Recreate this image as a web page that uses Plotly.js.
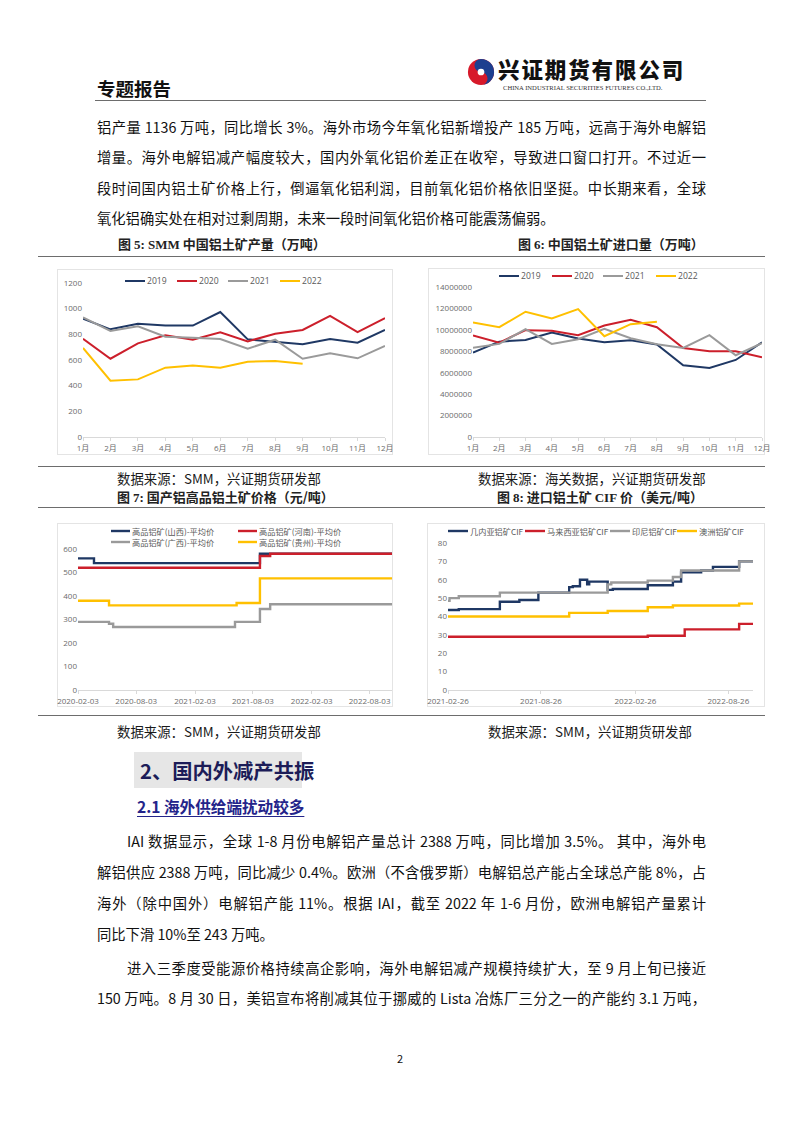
<!DOCTYPE html>
<html><head><meta charset="utf-8">
<script src="https://cdn.plot.ly/plotly-3.0.1.min.js"></script>
<style>
html,body{margin:0;padding:0;background:#fff}
body{width:802px;height:1133px;position:relative;overflow:hidden;font-family:"Noto Sans CJK SC","Noto Sans",sans-serif;color:#111}
.abs{position:absolute;white-space:nowrap}
.tl{position:absolute;font-size:14.3px;height:20px;line-height:20px;color:#111;text-align:justify;text-align-last:justify}
.tl.last{text-align:left;text-align-last:left}
.rule{position:absolute;height:0;border-top:1.6px solid #6d6d6d}
.frame{position:absolute;border:1px solid #e4e4e4;box-sizing:border-box}
.chart{position:absolute}
.cap{position:absolute;white-space:nowrap;font-size:13px;font-weight:700;color:#222;line-height:18px}
.cap .n{font-family:"Liberation Serif",serif;font-weight:700}
.src{position:absolute;white-space:nowrap;font-size:13.4px;color:#1a1a1a;line-height:18px}
</style></head>
<body>
<!-- header -->
<div class="abs" style="left:97px;top:76px;font-size:18.5px;font-weight:700;line-height:24px;color:#111">专题报告</div>
<svg class="abs" style="left:467px;top:58px" width="28" height="28" viewBox="0 0 30 30">
  <circle cx="15" cy="15" r="14" fill="#d7192a"/>
  <path d="M15 1 A14 14 0 0 1 15 29 A7 7 0 0 0 15 15 A7 7 0 0 1 15 1Z" fill="#1d3f8f"/>
  <circle cx="15" cy="15" r="3.6" fill="#fff"/>
</svg>
<div class="abs" style="left:498px;top:57px;font-size:21.5px;font-weight:900;letter-spacing:1.9px;line-height:24px;color:#111;font-family:'Noto Sans CJK SC'">兴证期货有限公司</div>
<div class="abs" style="left:503px;top:84px;font-size:6.6px;line-height:8px;color:#333;font-family:'Liberation Serif',serif">CHINA INDUSTRIAL SECURITIES FUTURES CO.,LTD.</div>
<div class="rule" style="left:95px;width:611px;top:100px"></div>

<div id="txt"></div>

<!-- chart frames -->
<div class="frame" style="left:57px;top:269px;width:336px;height:186px"></div>
<div class="frame" style="left:428px;top:268px;width:337px;height:187px"></div>
<div class="frame" style="left:57px;top:523px;width:336px;height:184px"></div>
<div class="frame" style="left:427px;top:523px;width:338px;height:184px"></div>

<div class="rule" style="left:38px;width:727px;top:256px"></div>
<div class="rule" style="left:38px;width:727px;top:466px"></div>
<div class="rule" style="left:38px;width:727px;top:507px"></div>
<div class="rule" style="left:38px;width:727px;top:715px"></div>

<div class="cap" style="left:118px;top:235px">图 <span class="n">5: SMM</span> 中国铝土矿产量（万吨）</div>
<div class="cap" style="left:518px;top:235px">图 <span class="n">6:</span> 中国铝土矿进口量（万吨）</div>
<div class="src" style="left:117px;top:469px">数据来源：SMM，兴证期货研发部</div>
<div class="src" style="left:478px;top:469px">数据来源：海关数据，兴证期货研发部</div>
<div class="cap" style="left:117px;top:488px">图 <span class="n">7:</span> 国产铝高品铝土矿价格（元/吨）</div>
<div class="cap" style="left:497px;top:488px">图 <span class="n">8:</span> 进口铝土矿 <span class="n">CIF</span> 价（美元/吨）</div>
<div class="src" style="left:117px;top:722px">数据来源：SMM，兴证期货研发部</div>
<div class="src" style="left:488px;top:722px">数据来源：SMM，兴证期货研发部</div>

<div class="abs" style="left:134px;top:752px;width:168px;height:36px;background:#e6e6e6"></div>
<div class="abs" style="left:140px;top:756px;font-size:20.3px;font-weight:700;line-height:28px;color:#1c1c58">2、国内外减产共振</div>
<div class="abs" style="left:137px;top:795px;font-size:15.6px;font-weight:700;line-height:22px;color:#24248a;text-decoration:underline;text-underline-offset:3px">2.1 海外供给端扰动较多</div>

<div class="abs" style="left:397px;top:1050px;font-size:11px;line-height:16px;color:#111">2</div>

<div id="c5" class="chart"></div>
<div id="c6" class="chart"></div>
<div id="c7" class="chart"></div>
<div id="c8" class="chart"></div>

<script>
// ---------------- data ----------------
const monthLabels = ['1月','2月','3月','4月','5月','6月','7月','8月','9月','10月','11月','12月'];
const yearNames = ['2019','2020','2021','2022'];
// 图5 SMM 中国铝土矿产量（万吨）
const smm2019 = [922, 839, 883, 868, 868, 974, 761, 740, 722, 764, 735, 834];
const smm2020 = [766, 610, 730, 792, 758, 816, 745, 805, 834, 943, 818, 927];
const smm2021 = [932, 826, 862, 782, 774, 764, 688, 758, 610, 652, 613, 709];
const smm2022 = [694, 439, 449, 540, 558, 540, 587, 592, 571];
// 图6 中国铝土矿进口量
const imp2019 = [7875000, 8900000, 9060000, 9750000, 9190000, 8840000, 9030000, 8630000, 6690000, 6440000, 7190000, 8840000];
const imp2020 = [9470000, 8810000, 9970000, 9910000, 9500000, 10410000, 10940000, 10250000, 8310000, 8000000, 8000000, 7440000];
const imp2021 = [8340000, 8690000, 10060000, 8690000, 9130000, 10090000, 9220000, 8660000, 8310000, 9500000, 7630000, 8750000];
const imp2022 = [10690000, 10250000, 11690000, 11060000, 11940000, 9410000, 10530000, 10750000];
// 图7 国产铝高品铝土矿价格（元/吨）— step points
const domNames = ['高品铝矿(山西)-平均价','高品铝矿(河南)-平均价','高品铝矿(广西)-平均价','高品铝矿(贵州)-平均价'];
const shanxiDates = ['2020-02-03','2020-03-24','2021-08-25','2022-10-12'];
const shanxiVals  = [560, 540, 580, 580];
const henanDates  = ['2020-02-03','2021-08-25','2021-09-26','2022-10-12'];
const henanVals   = [520, 570, 580, 580];
const guangxiDates = ['2020-02-03','2020-05-10','2020-05-23','2021-06-08','2021-08-25','2021-09-26','2022-10-12'];
const guangxiVals  = [290, 282, 268, 290, 345, 365, 365];
const guizhouDates = ['2020-02-03','2020-05-10','2021-06-13','2021-08-25','2022-10-12'];
const guizhouVals  = [380, 360, 370, 475, 475];
const domTicks = ['2020-02-03','2020-08-03','2021-02-03','2021-08-03','2022-02-03','2022-08-03'];
// 图8 进口铝土矿 CIF 价（美元/吨）
const cifNames = ['几内亚铝矿CIF','马来西亚铝矿CIF','印尼铝矿CIF','澳洲铝矿CIF'];
const guineaDates = ['2021-02-26','2021-03-19','2021-06-07','2021-07-15','2021-08-21','2021-10-20','2021-10-27','2021-11-10','2021-11-24','2021-11-28','2022-01-03','2022-01-13','2022-03-22','2022-05-10','2022-05-26','2022-07-04','2022-07-27','2022-09-16','2022-10-13'];
const guineaVals  = [43.5, 44, 48, 49, 53, 56, 56.5, 60, 57.5, 59, 54.5, 55, 57, 59, 64, 65, 67, 70, 70];
const malayDates  = ['2021-02-26','2022-03-22','2022-06-02','2022-09-16','2022-10-13'];
const malayVals   = [29, 29.5, 33, 36, 36];
const indoDates   = ['2021-02-26','2021-03-01','2021-03-19','2021-06-07','2022-01-03','2022-01-10','2022-03-22','2022-05-10','2022-05-26','2022-09-16','2022-10-13'];
const indoVals    = [48.5, 50, 51, 53, 57.5, 58.5, 59.5, 61.5, 65, 70, 70];
const ausDates    = ['2021-02-26','2021-10-20','2022-01-03','2022-03-22','2022-05-10','2022-09-16','2022-10-13'];
const ausVals     = [40, 42, 43, 45, 46, 47, 47];
const cifTicks = ['2021-02-26','2021-08-26','2022-02-26','2022-08-26'];

// ---------------- text ----------------
const textLines = [
 {y:127, x:97,  w:609, t:'铝产量 1136 万吨，同比增长 3%。海外市场今年氧化铝新增投产 185 万吨，远高于海外电解铝'},
 {y:157, x:97,  w:609, t:'增量。海外电解铝减产幅度较大，国内外氧化铝价差正在收窄，导致进口窗口打开。不过近一'},
 {y:188, x:97,  w:609, t:'段时间国内铝土矿价格上行，倒逼氧化铝利润，目前氧化铝价格依旧坚挺。中长期来看，全球'},
 {y:218, x:97,  w:609, t:'氧化铝确实处在相对过剩周期，未来一段时间氧化铝价格可能震荡偏弱。', last:true},
 {y:841, x:127, w:579, t:'IAI 数据显示，全球 1-8 月份电解铝产量总计 2388 万吨，同比增加 3.5%。 其中，海外电'},
 {y:872, x:97,  w:609, t:'解铝供应 2388 万吨，同比减少 0.4%。欧洲（不含俄罗斯）电解铝总产能占全球总产能 8%，占'},
 {y:903, x:97,  w:609, t:'海外（除中国外）电解铝产能 11%。根据 IAI，截至 2022 年 1-6 月份，欧洲电解铝产量累计'},
 {y:934, x:97,  w:609, t:'同比下滑 10%至 243 万吨。', last:true},
 {y:968, x:127, w:579, t:'进入三季度受能源价格持续高企影响，海外电解铝减产规模持续扩大，至 9 月上旬已接近'},
 {y:998, x:97,  w:609, t:'150 万吨。8 月 30 日，美铝宣布将削减其位于挪威的 Lista 冶炼厂三分之一的产能约 3.1 万吨，'}
];
const txt = document.getElementById('txt');
textLines.forEach(l => {
  const d = document.createElement('div');
  d.className = 'tl' + (l.last ? ' last' : '');
  d.style.left = l.x + 'px'; d.style.top = (l.y - 10) + 'px'; d.style.width = l.w + 'px';
  d.textContent = l.t;
  txt.appendChild(d);
});

// ---------------- chart styling ----------------
const C_NAVY = '#1f3864', C_RED = '#cc1f2b', C_GRAY = '#9a9a9a', C_YEL = '#ffc000';
const colors = [C_NAVY, C_RED, C_GRAY, C_YEL];
const tickFont = {family:'Open Sans, Noto Sans CJK SC', size:8, color:'#6b6b6b'};
const legFontA = {family:'Open Sans, Noto Sans CJK SC', size:8.6, color:'#595959'};
const legFontB = {family:'Noto Sans CJK SC', size:8.2, color:'#595959'};

function setup(id, div, box){
  const el = document.getElementById(id);
  el.style.left = div[0]+'px'; el.style.top = div[1]+'px';
  el.style.width = (div[2]-div[0])+'px'; el.style.height = (div[3]-div[1])+'px';
  return {width: div[2]-div[0], height: div[3]-div[1],
    margin:{l: box[0]-div[0], r: div[2]-box[2], t: box[1]-div[1], b: div[3]-box[3], pad:0},
    paper_bgcolor:'rgba(0,0,0,0)', plot_bgcolor:'rgba(0,0,0,0)', showlegend:false,
    font: tickFont, shapes:[], annotations:[]};
}
function toPaper(box, X, Y){ return {x:(X-box[0])/(box[2]-box[0]), y:(box[3]-Y)/(box[3]-box[1])}; }
function addLegend(layout, box, items, names, width, font){
  items.forEach((it, i) => {
    const a = toPaper(box, it[0], it[1]), b = toPaper(box, it[0]+it[2], it[1]), c = toPaper(box, it[0]+it[2]+1, it[1]);
    layout.shapes.push({type:'line', xref:'paper', yref:'paper', x0:a.x, x1:b.x, y0:a.y, y1:a.y, line:{color:colors[i], width:width}});
    layout.annotations.push({xref:'paper', yref:'paper', x:c.x, y:c.y, xanchor:'left', yanchor:'middle', text:names[i], showarrow:false, font:font, borderpad:0});
  });
}
const cfg = {staticPlot:true, displayModeBar:false};

// ---- Chart 5
(function(){
  const box = [83, 283, 385, 437];
  const L = setup('c5', [40, 262, 400, 462], box);
  const ser = [smm2019, smm2020, smm2021, smm2022];
  const traces = ser.map((v,i) => ({type:'scatter', mode:'lines', name:yearNames[i], x:monthLabels.slice(0, v.length), y:v, line:{color:colors[i], width:2}}));
  L.xaxis = {type:'category', categoryarray:monthLabels, range:[0,11], showline:true, linecolor:'#d9d9d9', linewidth:1, ticks:'outside', ticklen:3, tickcolor:'#d9d9d9', showgrid:false, zeroline:false, tickfont:tickFont};
  L.yaxis = {range:[0,1200], dtick:200, showgrid:false, zeroline:false, showline:false, ticks:'', tickfont:tickFont};
  addLegend(L, box, [[125,281,20],[177,281,20],[228,281,20],[280,281,20]], yearNames, 2, legFontA);
  Plotly.newPlot('c5', traces, L, cfg);
})();

// ---- Chart 6
(function(){
  const box = [473, 287, 762, 437];
  const L = setup('c6', [420, 262, 776, 462], box);
  const ser = [imp2019, imp2020, imp2021, imp2022];
  const traces = ser.map((v,i) => ({type:'scatter', mode:'lines', name:yearNames[i], x:monthLabels.slice(0, v.length), y:v, line:{color:colors[i], width:2}}));
  L.xaxis = {type:'category', categoryarray:monthLabels, range:[0,11], showline:true, linecolor:'#d9d9d9', linewidth:1, ticks:'outside', ticklen:3, tickcolor:'#d9d9d9', showgrid:false, zeroline:false, tickfont:tickFont};
  L.yaxis = {range:[0,14000000], dtick:2000000, tickformat:'d', showgrid:false, zeroline:false, showline:false, ticks:'', tickfont:tickFont};
  addLegend(L, box, [[499,276,20],[552,276,20],[603,276,20],[656,276,20]], yearNames, 2, legFontA);
  Plotly.newPlot('c6', traces, L, cfg);
})();

// ---- Chart 7
(function(){
  const box = [78, 549, 392, 690];
  const L = setup('c7', [40, 515, 400, 712], box);
  const xs = [shanxiDates, henanDates, guangxiDates, guizhouDates];
  const ys = [shanxiVals, henanVals, guangxiVals, guizhouVals];
  const traces = xs.map((x,i) => ({type:'scatter', mode:'lines', name:domNames[i], x:x, y:ys[i], line:{color:colors[i], width:2.4, shape:'hv'}}));
  L.xaxis = {type:'date', range:['2020-02-03','2022-10-12'], tickvals:domTicks, tickformat:'%Y-%m-%d', showline:true, linecolor:'#d9d9d9', ticks:'outside', ticklen:3, tickcolor:'#d9d9d9', showgrid:false, zeroline:false, tickfont:tickFont};
  L.yaxis = {range:[0,600], dtick:100, showgrid:false, zeroline:false, showline:false, ticks:'', tickfont:tickFont};
  addLegend(L, box, [[111,531,19],[238,531,19],[111,542,19],[238,542,19]], domNames, 2.4, legFontB);
  Plotly.newPlot('c7', traces, L, cfg);
})();

// ---- Chart 8
(function(){
  const box = [448, 543, 753, 690];
  const L = setup('c8', [415, 515, 770, 712], box);
  const xs = [guineaDates, malayDates, indoDates, ausDates];
  const ys = [guineaVals, malayVals, indoVals, ausVals];
  const traces = xs.map((x,i) => ({type:'scatter', mode:'lines', name:cifNames[i], x:x, y:ys[i], line:{color:colors[i], width:2.4, shape:'hv'}}));
  L.xaxis = {type:'date', range:['2021-02-26','2022-10-13'], tickvals:cifTicks, tickformat:'%Y-%m-%d', showline:true, linecolor:'#d9d9d9', ticks:'outside', ticklen:3, tickcolor:'#d9d9d9', showgrid:false, zeroline:false, tickfont:tickFont};
  L.yaxis = {range:[0,80], dtick:10, showgrid:false, zeroline:false, showline:false, ticks:'', tickfont:tickFont};
  addLegend(L, box, [[448,531,20],[525,531,20],[610,531,20],[677,531,20]], cifNames, 2.4, legFontB);
  Plotly.newPlot('c8', traces, L, cfg);
})();
</script>
</body></html>
